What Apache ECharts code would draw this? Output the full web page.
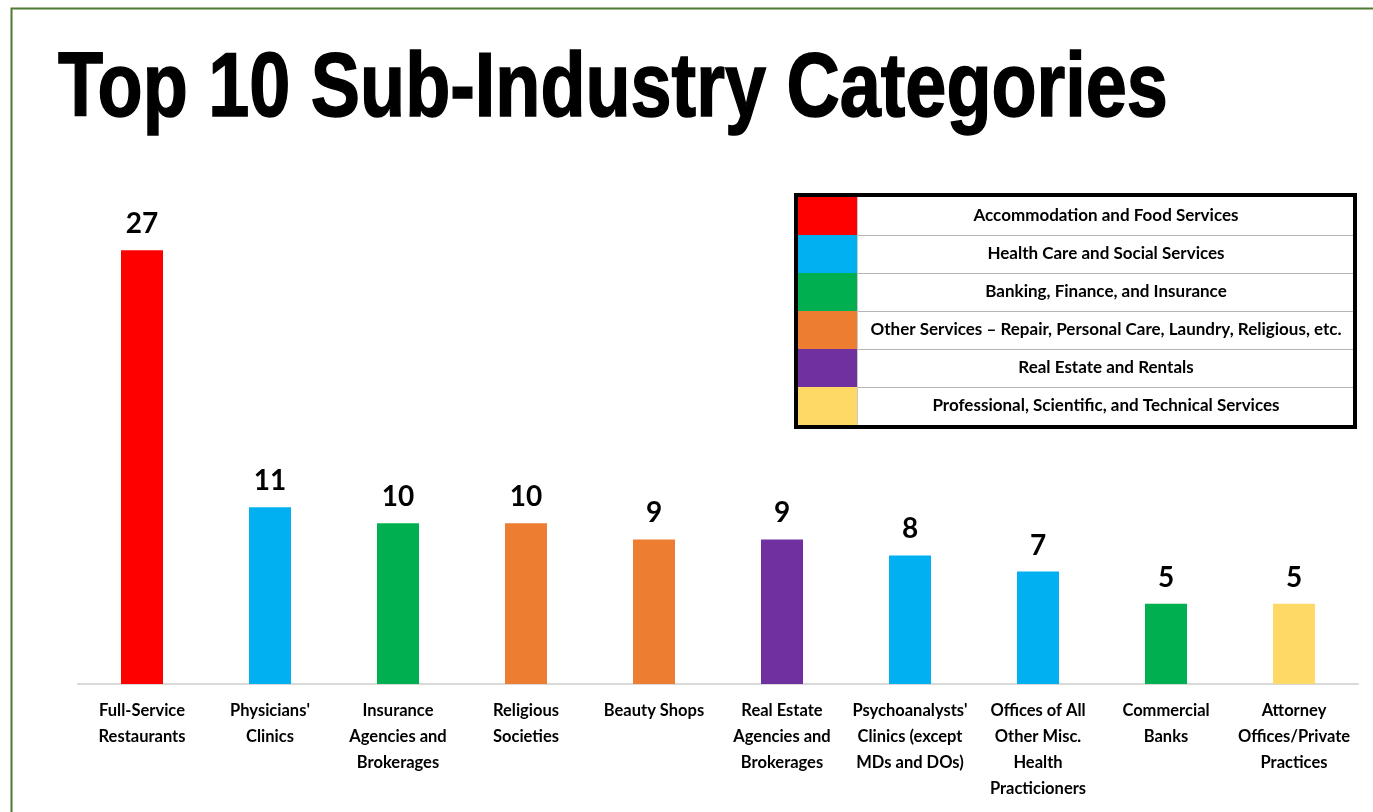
<!DOCTYPE html>
<html>
<head>
<meta charset="utf-8">
<script src="https://cdn.jsdelivr.net/npm/echarts@6/dist/echarts.min.js"></script>
<style>
  html, body { margin: 0; padding: 0; background: #fff; }
  #chart { width: 1373px; height: 812px; }
</style>
</head>
<body>
<div id="chart"></div>
<script>
// Sub-industry categories and their counts
const categories = [
  "Full-Service\nRestaurants",
  "Physicians'\nClinics",
  "Insurance\nAgencies and\nBrokerages",
  "Religious\nSocieties",
  "Beauty Shops",
  "Real Estate\nAgencies and\nBrokerages",
  "Psychoanalysts'\nClinics (except\nMDs and DOs)",
  "Offices of All\nOther Misc.\nHealth\nPracticioners",
  "Commercial\nBanks",
  "Attorney\nOffices/Private\nPractices"
];
const counts = [27, 11, 10, 10, 9, 9, 8, 7, 5, 5];
// Index into the sector lists below for each category
const sectorOf = [0, 1, 2, 3, 3, 4, 1, 1, 2, 5];

const sectorNames = [
  "Accommodation and Food Services",
  "Health Care and Social Services",
  "Banking, Finance, and Insurance",
  "Other Services \u2013 Repair, Personal Care, Laundry, Religious, etc.",
  "Real Estate and Rentals",
  "Professional, Scientific, and Technical Services"
];
const sectorColors = ["#FF0000", "#00B0F0", "#00B050", "#ED7D31", "#7030A0", "#FFD966"];

const FONT = "Lato, 'Open Sans', sans-serif";

// Sector key drawn as a bordered table
const keyLeft = 798, keyTop = 197, keyRight = 1353, rowH = 38, swatchW = 59;
const keyChildren = [];
sectorNames.forEach((name, i) => {
  const y = keyTop + i * rowH;
  keyChildren.push({
    type: 'rect',
    shape: { x: keyLeft, y: y, width: swatchW, height: rowH },
    style: { fill: sectorColors[i] }
  });
  if (i > 0) {
    keyChildren.push({
      type: 'line',
      shape: { x1: keyLeft + swatchW, y1: y + 0.5, x2: keyRight, y2: y + 0.5 },
      style: { stroke: '#b5b5b5', lineWidth: 1 }
    });
  }
  keyChildren.push({
    type: 'text',
    x: (keyLeft + swatchW + keyRight) / 2 + 1,
    y: y + rowH / 2,
    style: {
      text: name,
      fill: '#000',
      font: "bold 17px " + FONT,
      align: 'center',
      verticalAlign: 'middle'
    }
  });
});
keyChildren.push({
  type: 'line',
  shape: { x1: keyLeft + swatchW + 0.5, y1: keyTop, x2: keyLeft + swatchW + 0.5, y2: keyTop + rowH * 6 },
  style: { stroke: '#c8c8c8', lineWidth: 1 }
});
keyChildren.push({
  type: 'rect',
  shape: { x: keyLeft - 2, y: keyTop - 2, width: keyRight - keyLeft + 4, height: rowH * 6 + 4 },
  style: { fill: 'none', stroke: '#000', lineWidth: 4 }
});

const chart = echarts.init(document.getElementById('chart'), null, { renderer: 'canvas' });

chart.setOption({
  backgroundColor: '#ffffff',
  animation: false,
  grid: { left: 78, right: 15, top: 202, bottom: 128 },
  xAxis: {
    type: 'category',
    data: categories,
    axisLine: { lineStyle: { color: '#d9d9d9', width: 2 } },
    axisTick: { show: false },
    axisLabel: {
      interval: 0,
      margin: 14,
      color: '#000',
      fontFamily: FONT,
      fontWeight: 'bold',
      fontSize: 16.5,
      lineHeight: 26
    }
  },
  yAxis: {
    type: 'value',
    min: 0,
    max: 30,
    show: false,
    splitLine: { show: false }
  },
  series: [{
    type: 'bar',
    barWidth: 42,
    data: counts.map((v, i) => ({ value: v, itemStyle: { color: sectorColors[sectorOf[i]] } })),
    label: {
      show: true,
      position: 'top',
      distance: 12,
      color: '#000',
      fontFamily: FONT,
      fontWeight: 'bold',
      fontSize: 28
    }
  }],
  graphic: [
    // outer frame
    {
      type: 'polyline',
      shape: { points: [[11.5, 812], [11.5, 8.5], [1373, 8.5]] },
      style: { stroke: '#4F7A32', lineWidth: 2, fill: 'none' }
    },
    {
      type: 'text',
      x: 58,
      y: 91,
      scaleX: 0.82,
      style: {
        text: 'Top 10 Sub-Industry Categories',
        fill: '#000',
        stroke: '#000',
        lineWidth: 1.5,
        font: "bold 90px 'Liberation Sans', Arial, sans-serif",
        align: 'left',
        verticalAlign: 'middle'
      }
    },
    { type: 'group', children: keyChildren }
  ]
});
</script>
</body>
</html>
